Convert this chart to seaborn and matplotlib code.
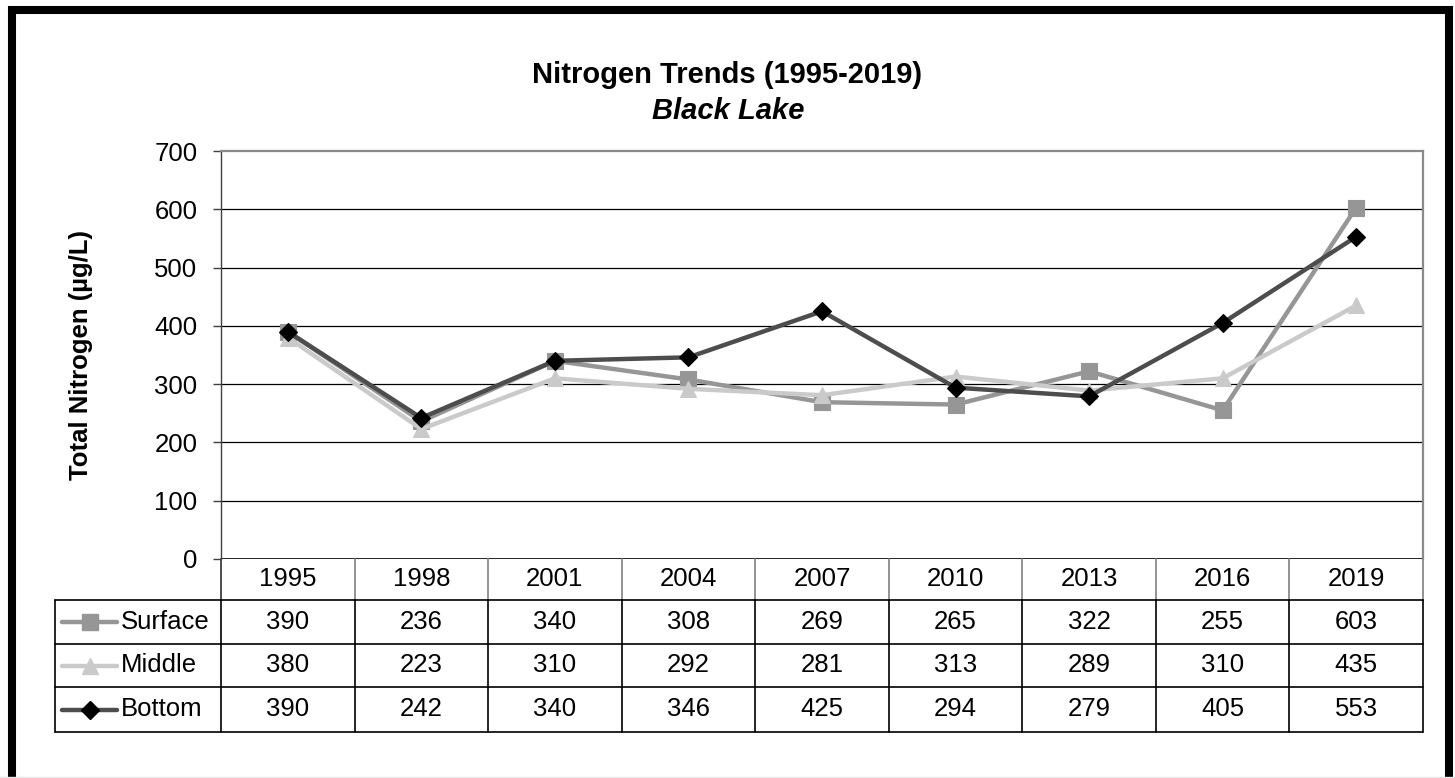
import matplotlib
matplotlib.use("Agg")
import matplotlib.pyplot as plt
import matplotlib.transforms as mtransforms
from matplotlib.lines import Line2D
from matplotlib.patches import Rectangle
import pandas as pd
import seaborn as sns

# ---- data ----
years = ["1995", "1998", "2001", "2004", "2007", "2010", "2013", "2016", "2019"]
surface = [390, 236, 340, 308, 269, 265, 322, 255, 603]
middle = [380, 223, 310, 292, 281, 313, 289, 310, 435]
bottom = [390, 242, 340, 346, 425, 294, 279, 405, 553]
series_names = ["Surface", "Middle", "Bottom"]
y_ticks = [0, 100, 200, 300, 400, 500, 600, 700]

title_main = "Nitrogen Trends (1995-2019)"
title_sub = "Black Lake"
y_label = "Total Nitrogen (µg/L)"

sns.set_theme(style="white")
plt.rcParams["font.family"] = ["Liberation Sans", "DejaVu Sans"]
plt.rcParams["text.color"] = "#000000"
plt.rcParams["axes.labelcolor"] = "#000000"
plt.rcParams["ytick.color"] = "#000000"
plt.rcParams["xtick.color"] = "#000000"

W, H = 1455, 778
fig = plt.figure(figsize=(W / 100, H / 100), dpi=100)

def fx(px):
    return px / W

def fy(py):
    return 1 - py / H

# plot area in pixels
L, R, T, B = 221, 1423, 151, 559
ax = fig.add_axes([fx(L), fy(B), fx(R - L), (B - T) / H])

df = pd.DataFrame({
    "pos": list(range(len(years))) * 3,
    "value": surface + middle + bottom,
    "series": [s for s in series_names for _ in years],
})

styles = {
    "Surface": dict(color="#969696", marker="s", ms=11, mfc="#969696", mec="#969696"),
    "Middle": dict(color="#cacaca", marker="^", ms=12, mfc="#cacaca", mec="#cacaca"),
    "Bottom": dict(color="#4d4d4d", marker="D", ms=9, mfc="#000000", mec="#000000"),
}

for name in series_names:
    st = styles[name]
    sns.lineplot(data=df[df.series == name], x="pos", y="value", ax=ax,
                 color=st["color"], linewidth=3.2, marker=st["marker"],
                 markersize=st["ms"], markerfacecolor=st["mfc"],
                 markeredgecolor=st["mec"], markeredgewidth=0.8,
                 legend=False, zorder=3)

ax.set_xlim(-0.5, len(years) - 0.5)
ax.set_ylim(0, 700)
ax.set_yticks(y_ticks)
ax.set_yticklabels([str(v) for v in y_ticks], fontsize=18.5)
ax.set_xticks([])
ax.set_xlabel("")
ax.set_ylabel(y_label, fontsize=18.5, fontweight="bold")
ax.yaxis.set_label_coords(-(L - 93) / (R - L), 0.5)
for v in y_ticks[1:-1]:
    ax.axhline(v, color="#000000", linewidth=0.9, zorder=1)
ax.axhline(0, color="#000000", linewidth=1.2, zorder=2)

ax.spines["top"].set_color("#8a8a8a")
ax.spines["right"].set_color("#8a8a8a")
ax.spines["top"].set_linewidth(1.6)
ax.spines["right"].set_linewidth(1.6)
ax.spines["left"].set_color("#404040")
ax.spines["left"].set_linewidth(1.0)
ax.spines["bottom"].set_visible(False)
ax.tick_params(axis="y", which="major", direction="out", length=6, width=1,
               color="#404040", pad=11, left=True)

# ---- data table under the axis ----
trans = mtransforms.blended_transform_factory(ax.transData, fig.transFigure)
row_edges = [559, 600, 644, 687, 732]
n = len(years)

def hline(x0, x1, ypx, color="#000000", lw=1.0, tr=None):
    fig.add_artist(Line2D([x0, x1], [fy(ypx), fy(ypx)], transform=tr or trans,
                          color=color, linewidth=lw, clip_on=False))

def vline(xd, y0px, y1px, color="#000000", lw=1.0, tr=None):
    fig.add_artist(Line2D([xd, xd], [fy(y0px), fy(y1px)], transform=tr or trans,
                          color=color, linewidth=lw, clip_on=False))

# header row: one cell per year, centred on its category position
for i in range(n + 1):
    col = "#404040" if i == 0 else "#8a8a8a"
    vline(i - 0.5, row_edges[0], row_edges[1], color=col, lw=1.3)
for i, yr in enumerate(years):
    fig.text(i, fy((row_edges[0] + row_edges[1]) / 2), yr, transform=trans,
             ha="center", va="center", fontsize=18.5)

# body rows
for k in range(1, 5):
    hline(fx(55), fx(R), row_edges[k], tr=fig.transFigure, lw=1.2)
vline(fx(55), row_edges[1], row_edges[4], tr=fig.transFigure, lw=1.2)
for i in range(n + 1):
    vline(i - 0.5, row_edges[1], row_edges[4], lw=1.2)

all_vals = [surface, middle, bottom]
for r, (name, vals) in enumerate(zip(series_names, all_vals)):
    yc = (row_edges[r + 1] + row_edges[r + 2]) / 2
    for i, v in enumerate(vals):
        fig.text(i, fy(yc), str(v), transform=trans, ha="center", va="center",
                 fontsize=18.5)
    st = styles[name]
    fig.add_artist(Line2D([fx(62), fx(117)], [fy(yc), fy(yc)],
                          transform=fig.transFigure, color=st["color"],
                          linewidth=3.2, clip_on=False))
    fig.add_artist(Line2D([fx(89.5)], [fy(yc)], transform=fig.transFigure,
                          marker=st["marker"], markersize=st["ms"],
                          markerfacecolor=st["mfc"], markeredgecolor=st["mec"],
                          linestyle="none", clip_on=False))
    fig.text(fx(121), fy(yc), name, ha="left", va="center", fontsize=18.5)

# ---- titles ----
fig.text(fx(727), fy(75), title_main, ha="center", va="center",
         fontsize=21, fontweight="bold")
fig.text(fx(728), fy(111), title_sub, ha="center", va="center",
         fontsize=21, fontweight="bold", style="italic")

# ---- outer frame ----
fig.add_artist(Rectangle((fx(12), fy(800)), fx(1448.5 - 12), (800 - 9.5) / H,
                         transform=fig.transFigure, fill=False,
                         edgecolor="#000000", linewidth=5.8, clip_on=False))
fig.add_artist(Line2D([0, 1], [fy(776.5), fy(776.5)], transform=fig.transFigure,
                      color="#e6e6e6", linewidth=1.0))

fig.savefig("out.png", dpi=100)
